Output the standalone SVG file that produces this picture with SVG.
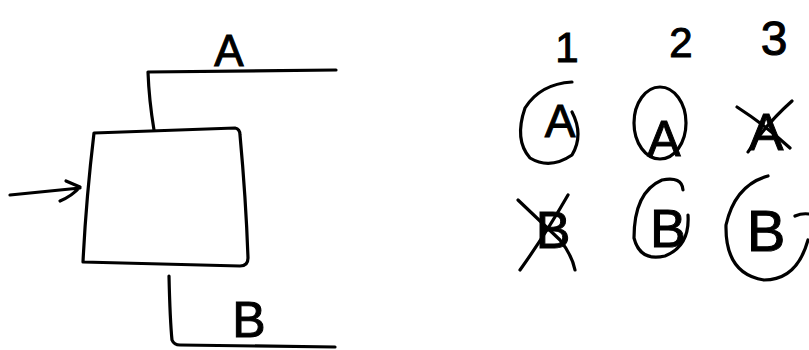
<svg xmlns="http://www.w3.org/2000/svg" width="809" height="350" viewBox="0 0 809 350">
<style>
.s{fill:none;stroke:#000;stroke-width:3.2;stroke-linecap:round;stroke-linejoin:round}
.t{font-family:"Liberation Sans","DejaVu Sans",sans-serif;fill:#000;stroke:#000;stroke-width:1;text-anchor:middle}
</style>
<rect width="809" height="350" fill="#fff"/>
<g id="box">
<path class="s" d="M94,133 Q170,130 235,128 Q240,129 240,135 Q246,200 248,258 Q248,266 240,266 Q160,264 83,262 Q86,200 94,133 Z"/>
</g>
<g id="label-A"><text class="t" x="229" y="66" font-size="44">A</text></g>
<g id="label-B"><text class="t" x="249" y="337" font-size="50">B</text></g>
<g id="connectors">
<path class="s" d="M154,130 Q149,100 148,72 L336,70"/>
<path class="s" d="M169,276 Q170,320 172,340 Q174,345 180,345 L335,347"/>
<path class="s" d="M10,195 L80,188 M66,181 L80,187 Q72,196 60,201"/>
</g>
<g id="table">
<text class="t" x="567" y="62" font-size="42">1</text>
<text class="t" x="681" y="57" font-size="42">2</text>
<text class="t" x="774" y="55" font-size="48">3</text>
<g id="c1A">
<path class="s" d="M572,82 Q540,84 525,108 Q514,140 530,158 Q550,170 572,155 Q584,135 572,112"/>
<text class="t" x="560" y="137" font-size="46">A</text>
</g>
<g id="c2A">
<ellipse class="s" cx="660" cy="123" rx="26" ry="36"/>
<text class="t" x="664" y="156" font-size="50">A</text>
</g>
<g id="c3A">
<text class="t" x="766" y="150" font-size="52">A</text>
<path class="s" d="M737,107 Q765,125 790,148 M792,101 Q765,125 748,152"/>
</g>
<g id="c1B">
<text class="t" x="553" y="248" font-size="52">B</text>
<path class="s" d="M518,200 L560,240 Q572,255 575,270 M568,195 Q545,235 520,270"/>
</g>
<g id="c2B">
<path class="s" d="M683,190 Q682,176 662,180 Q634,192 634,238 Q640,262 665,256 Q690,246 688,215"/>
<text class="t" x="668" y="247" font-size="54">B</text>
</g>
<g id="c3B">
<path class="s" d="M768,176 Q735,185 726,225 Q725,274 764,280 Q797,280 808,240 M795,216 Q802,213 809,214"/>
<text class="t" x="766" y="251" font-size="58">B</text>
</g>
</g>
</svg>
